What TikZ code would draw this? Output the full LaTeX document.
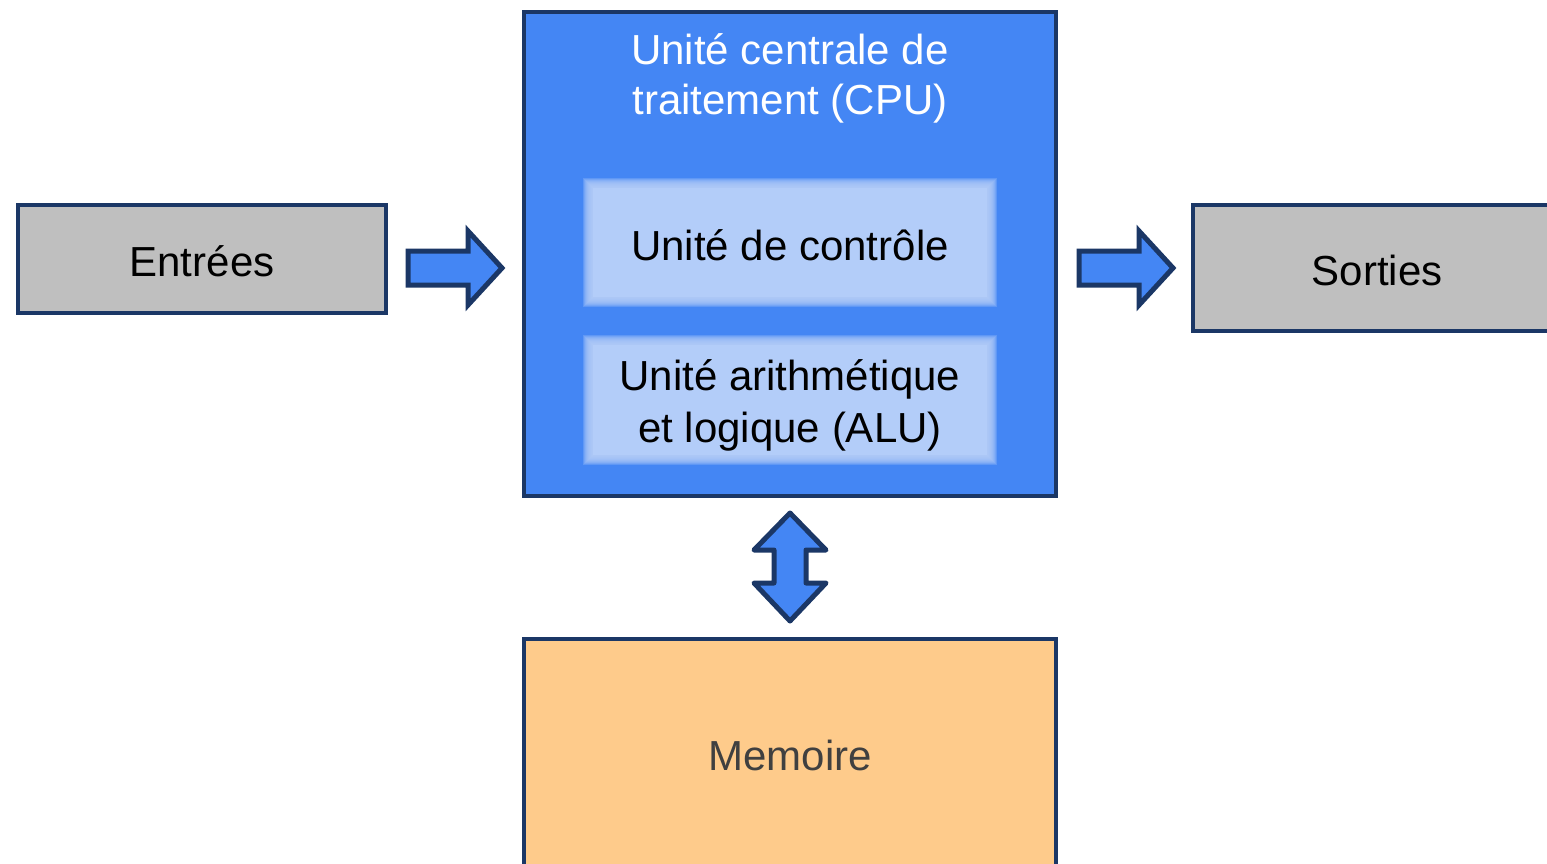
\documentclass[tikz,border=0pt]{standalone}
\usepackage{fontspec}
\setmainfont{Liberation Sans}
\usetikzlibrary{calc}
\definecolor{navy}{HTML}{1B3766}
\definecolor{cpublue}{HTML}{4486F4}
\definecolor{unitblue}{HTML}{B3CDF9}
\definecolor{boxgray}{HTML}{BFBFBF}
\definecolor{memorange}{HTML}{FECB8B}
\definecolor{memtext}{HTML}{404040}
\tikzset{
  box/.style={draw=navy, line width=2.2pt, inner sep=0pt},
  label/.style={font=\fontsize{21}{25}\selectfont, align=center, inner sep=0pt},
  blockarrow/.style={draw=navy, fill=cpublue, line width=2.5pt},
  rarrow/.pic={
    \draw[blockarrow, miter limit=10] (0,-17) -- (60,-17) -- (60,-37) -- (94,0)
      -- (60,37) -- (60,17) -- (0,17) -- cycle;
  },
  udarrow/.pic={
    \draw[blockarrow, line join=round] (0,-54) -- (36,-17) -- (16,-17) -- (16,16)
      -- (36,16) -- (0,54) -- (-36,16) -- (-16,16) -- (-16,-17) -- (-36,-17) -- cycle;
  },
}
\begin{document}
\begin{tikzpicture}[x=0.5pt, y=-0.5pt]
  \useasboundingbox (0,0) rectangle (1547,863);
  \clip (0,0) rectangle (1547,863);

  % input and output boxes
  \node[box, fill=boxgray, minimum width=184pt, minimum height=54pt] (in) at (202,259) {};
  \node[label] (intxt) at (202,261) {Entrées};
  \node[box, fill=boxgray, minimum width=183.5pt, minimum height=63pt] (out) at (1376.5,268) {};
  \node[label] (outtxt) at (1377,270) {Sorties};

  % processor
  \node[box, fill=cpublue, minimum width=266pt, minimum height=242pt] (cpu) at (790,254) {};
  \node[label, text=white] (cputxt) at (790,78) {Unité centrale de\\traitement (CPU)};

  % soft-edged inner units
  \foreach \yt/\yb in {180/305, 337/463}{
    \foreach \d in {-8,-7,...,2}{
      \fill[unitblue, fill opacity=0.26] ({585-\d},{\yt-\d}) rectangle ({995+\d},{\yb+\d});
    }
    \fill[unitblue] (593,{\yt+8}) rectangle (987,{\yb-8});
  }
  \node[label] (ctl) at (790,245) {Unité de contrôle};
  \node[label, font=\fontsize{21}{26}\selectfont] (alu) at (790,405) {Unité arithmétique\\et logique (ALU)};

  % memory
  \node[box, fill=memorange, minimum width=266pt, minimum height=120.5pt] (mem) at (790,759.5) {};
  \node[label, text=memtext] (memtxt) at (790,755) {Memoire};

  % data-flow arrows
  \pic at (408,268) {rarrow};
  \pic at (1079,268) {rarrow};
  \pic at (790,567) {udarrow};
\end{tikzpicture}
\end{document}
